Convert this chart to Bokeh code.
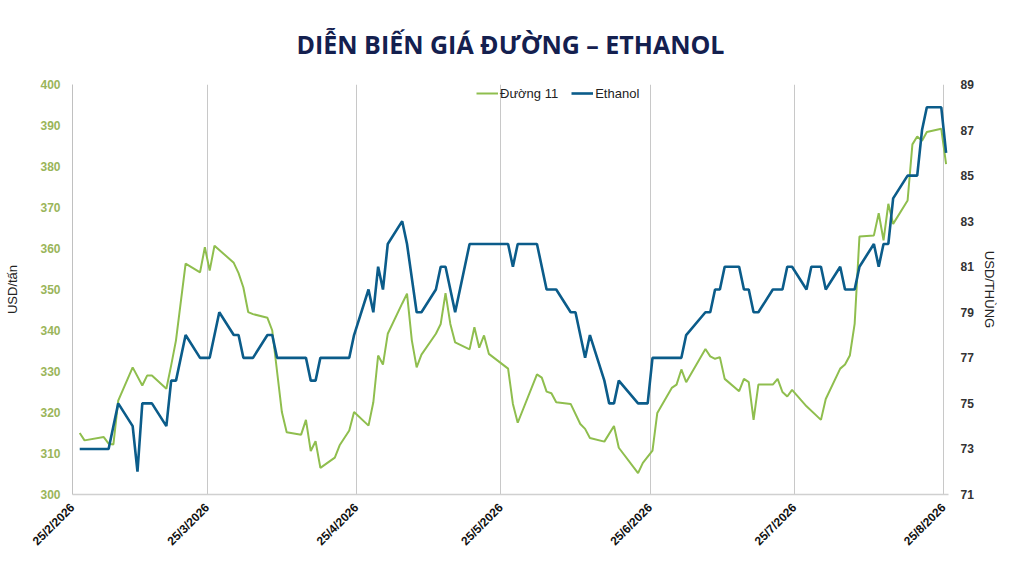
from bokeh.plotting import figure
from bokeh.models import Range1d, LinearAxis, FixedTicker, Legend, LegendItem
from bokeh.embed import file_html
from bokeh.resources import INLINE
import math

# days since 25/2/2026 (points sit in the middle of their day)
sugar_days = [1, 2, 6, 7, 8, 9, 12, 14, 15, 16, 19, 20, 21, 23, 26, 27, 28, 29,
              33, 34, 35, 36, 37, 40, 41, 42, 43, 44, 47, 48, 49, 50, 51, 54, 55,
              57, 58, 61, 62, 63, 64, 65, 68, 69, 70, 71, 72, 75, 76, 77, 78, 79,
              82, 83, 84, 85, 86, 90, 91, 92, 96, 97, 98, 99, 100, 103, 105, 106,
              107, 110, 112, 113, 117, 118, 120, 121, 124, 125, 126, 127, 131,
              132, 133, 134, 135, 138, 139, 140, 141, 142, 145, 146, 147, 148,
              149, 152, 155, 156, 159, 160, 161, 162, 163, 166, 167, 168, 169,
              170, 173, 174, 175, 176, 177, 180, 181]
sugar = [315.0, 313.2, 314.0, 312.4, 312.2, 322.9, 331.0, 326.6, 329.0, 329.0,
         325.8, 331.5, 337.6, 356.3, 354.2, 360.3, 354.6, 360.7,
         356.5, 354.0, 350.5, 344.5, 344.0, 343.1, 340.0, 330.0, 320.1, 315.2,
         314.6, 318.2, 310.6, 313.0, 306.5, 309.0, 312.0,
         315.6, 320.1, 316.8, 322.5, 333.9, 331.7, 339.2, 346.6, 349.0, 337.6,
         331.0, 334.1, 339.2, 341.6, 349.1, 341.6, 337.1,
         335.4, 340.8, 335.8, 338.8, 334.3, 330.7, 322.1, 317.5, 329.3, 328.5,
         325.1, 324.7, 322.5, 322.1, 317.2, 316.0,
         313.8, 312.9, 316.7, 311.4, 305.2, 307.7, 310.7, 319.9, 326.0, 326.8,
         330.5, 327.4, 335.5,
         333.7, 333.1, 333.5, 328.2, 325.2, 328.2, 327.4, 318.2, 326.8, 326.8,
         328.2, 325.0, 323.9,
         325.5, 321.5, 318.2, 323.3, 330.7, 331.7, 333.9, 341.6, 362.9, 363.2,
         368.6, 362.0, 370.9,
         366.0, 371.7, 385.4, 387.3, 386.3, 388.4, 389.2, 380.6]

ethanol_days = [1, 7, 9, 12, 13, 14, 16, 19, 20, 21,
                23, 26, 28, 30, 33, 34, 35, 37, 40, 41,
                42, 48, 49, 50, 51, 57, 58, 61, 62, 63,
                64, 65, 68, 69, 71, 72, 75, 76, 77, 79,
                82, 90, 91, 92, 96, 98, 100, 103, 104, 106,
                107, 110, 111, 112, 113, 117, 119, 120, 126, 127,
                131, 132, 133, 134, 135, 138, 139, 140, 141, 142,
                145, 147, 148, 149, 152, 153, 155, 156, 159, 160,
                162, 163, 166, 167, 168, 169, 170, 173, 175, 176,
                177, 180, 181]
ethanol = [73, 73, 75, 74, 72, 75, 75, 74, 76, 76,
           78, 77, 77, 79, 78, 78, 77, 77, 78, 78,
           77, 77, 76, 76, 77, 77, 78, 80, 79, 81,
           80, 82, 83, 82, 79, 79, 80, 81, 81, 79,
           82, 82, 81, 82, 82, 80, 80, 79, 79, 77,
           78, 76, 75, 75, 76, 75, 75, 77, 77, 78,
           79, 79, 80, 80, 81, 81, 80, 80, 79, 79,
           80, 80, 81, 81, 80, 81, 81, 80, 81, 80,
           80, 81, 82, 81, 82, 82, 84, 85, 85, 87,
           88, 88, 86]

tick_days = [0, 28, 59, 89, 120, 150, 181]
tick_labels = ["25/2/2026", "25/3/2026", "25/4/2026", "25/5/2026",
               "25/6/2026", "25/7/2026", "25/8/2026"]

GREEN = "#8FBE4E"
BLUE = "#0B5C8A"

p = figure(width=1008, height=560, output_backend="svg", toolbar_location=None,
           x_range=Range1d(0, 182), y_range=Range1d(300, 400),
           min_border_left=72, min_border_right=60, min_border_top=84,
           min_border_bottom=66)
p.outline_line_color = None
p.background_fill_color = "white"

p.title.text = "DIỄN BIẾN GIÁ ĐƯỜNG – ETHANOL"
p.title.align = "center"
p.title.text_font = "Open Sans"
p.title.text_font_size = "25px"
p.title.text_font_style = "bold"
p.title.text_color = "#14204F"
p.title.standoff = 47

p.extra_y_ranges = {"eth": Range1d(71, 89)}

sx = [d + 0.5 for d in sugar_days]
ex = [d + 0.5 for d in ethanol_days]
r1 = p.line(sx, sugar, line_color=GREEN, line_width=2)
r2 = p.line(ex, ethanol, line_color=BLUE, line_width=2.6, y_range_name="eth")

# x axis
xa = p.xaxis[0]
xa.ticker = FixedTicker(ticks=tick_days)
xa.major_label_overrides = dict(zip(tick_days, tick_labels))
xa.major_label_orientation = math.pi / 4
xa.major_label_text_font = "Liberation Sans"
xa.major_label_text_font_size = "12px"
xa.major_label_text_font_style = "bold"
xa.major_label_text_color = "#111111"
xa.axis_line_color = "#D0D0D0"
xa.axis_line_width = 1.5
xa.major_tick_line_color = None
xa.minor_tick_line_color = None

# left axis
ya = p.yaxis[0]
ya.ticker = FixedTicker(ticks=list(range(300, 401, 10)))
ya.axis_label = "USD/tấn"
ya.axis_label_text_font = "Liberation Sans"
ya.axis_label_text_font_size = "13px"
ya.axis_label_text_font_style = "normal"
ya.axis_label_text_color = "#222222"
ya.axis_label_standoff = 17
ya.major_label_text_font = "Liberation Sans"
ya.major_label_text_font_size = "12px"
ya.major_label_text_font_style = "bold"
ya.major_label_text_color = "#9AB55A"
ya.axis_line_color = "#C0C0C0"
ya.major_tick_line_color = None
ya.minor_tick_line_color = None
ya.major_label_standoff = 6

# right axis
ra = LinearAxis(y_range_name="eth", ticker=FixedTicker(ticks=list(range(71, 90, 2))))
ra.axis_label = "USD/THÙNG"
ra.axis_label_text_font = "Liberation Sans"
ra.axis_label_text_font_size = "13px"
ra.axis_label_text_font_style = "normal"
ra.axis_label_text_color = "#222222"
ra.major_label_text_font = "Liberation Sans"
ra.major_label_text_font_size = "12px"
ra.major_label_text_font_style = "bold"
ra.major_label_text_color = "#333333"
ra.axis_line_color = None
ra.major_tick_line_color = None
ra.minor_tick_line_color = None
ra.major_label_standoff = 6
p.add_layout(ra, "right")

p.xgrid.ticker = FixedTicker(ticks=tick_days)
p.xgrid.grid_line_color = "#C8C8C8"
p.ygrid.grid_line_color = None

legend = Legend(items=[LegendItem(label="Đường 11", renderers=[r1]),
                       LegendItem(label="Ethanol", renderers=[r2])],
                orientation="horizontal", location=(404, 391))
legend.border_line_color = None
legend.background_fill_alpha = 0
legend.label_text_font = "Liberation Sans"
legend.label_text_font_size = "13px"
legend.label_text_color = "#222222"
legend.glyph_width = 22
legend.label_standoff = 2
legend.spacing = 13
legend.padding = 0
legend.margin = 0
p.add_layout(legend)

open("out.html", "w").write(file_html(p, INLINE))
